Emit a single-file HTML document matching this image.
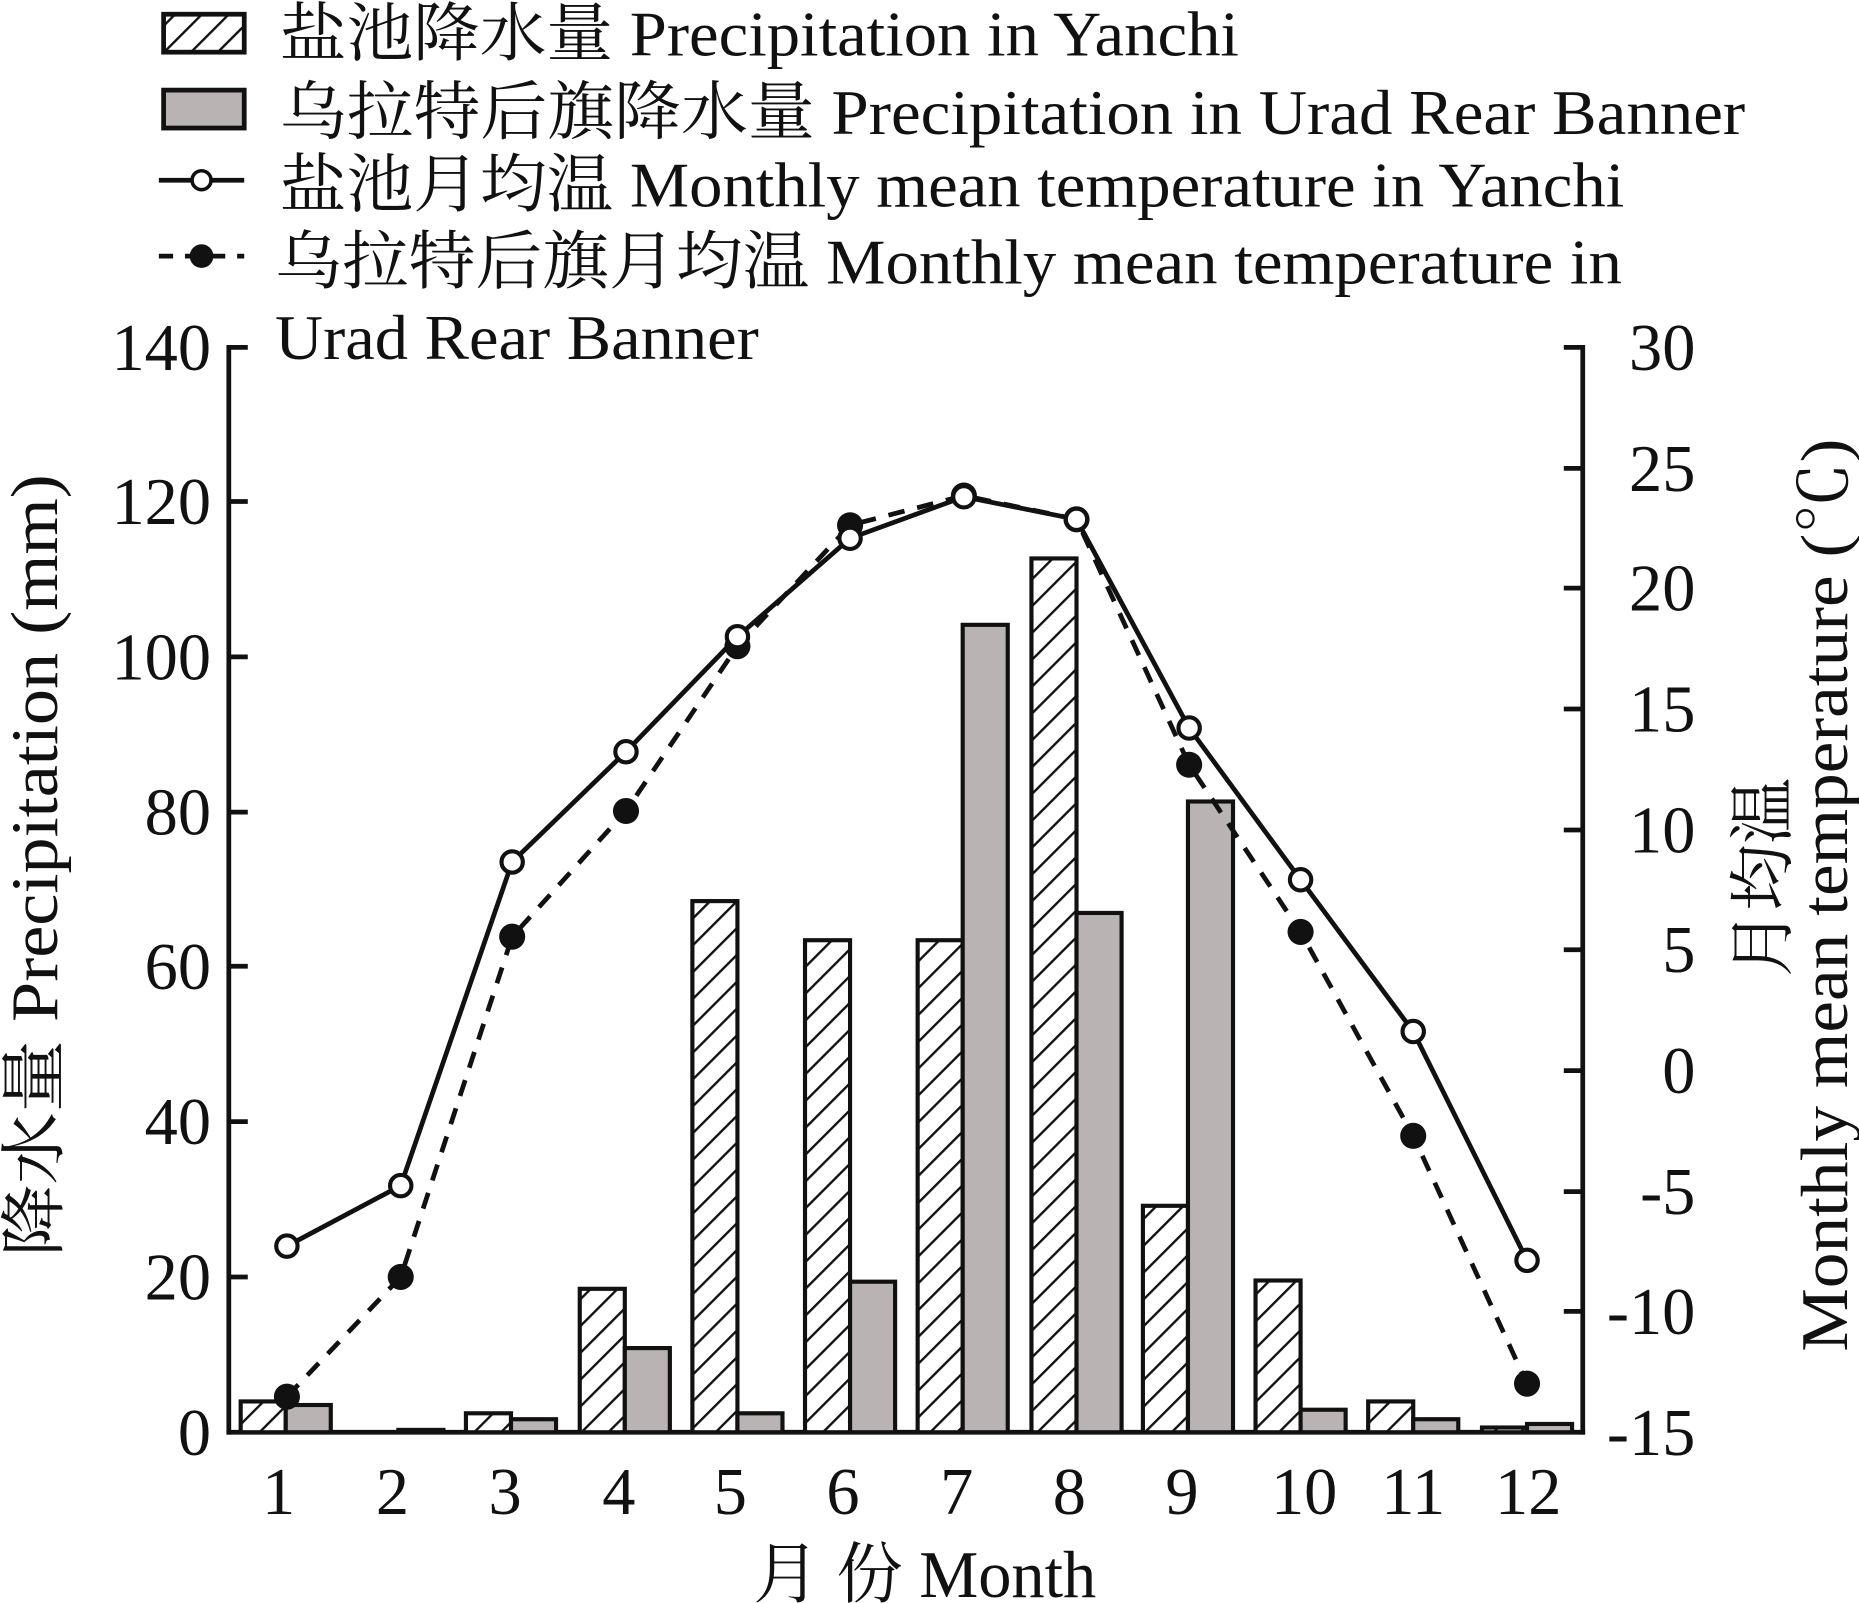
<!DOCTYPE html>
<html><head><meta charset="utf-8"><style>html,body{margin:0;padding:0;background:#fff}svg{display:block}</style></head>
<body>
<svg width="1859" height="1603" viewBox="0 0 1568 1352" preserveAspectRatio="none" xmlns="http://www.w3.org/2000/svg" font-family="'Liberation Serif','Noto Serif CJK SC',serif">
<defs>
<pattern id="h" patternUnits="userSpaceOnUse" width="16" height="16" patternTransform="rotate(45)">
<rect width="16" height="16" fill="#fff"/><line x1="0" y1="0" x2="0" y2="16" stroke="#111" stroke-width="4"/>
</pattern>
</defs>
<rect width="1568" height="1352" fill="#fff"/>
<!-- legend -->
<rect x="138" y="12" width="68" height="32" fill="url(#h)" stroke="#111" stroke-width="4"/>
<text x="236" y="47" font-size="54" fill="#111" textLength="809" lengthAdjust="spacingAndGlyphs">盐池降水量 Precipitation in Yanchi</text>
<rect x="138" y="76" width="68" height="32" fill="#bab3b3" stroke="#111" stroke-width="4"/>
<text x="236" y="113" font-size="54" fill="#111" textLength="1236" lengthAdjust="spacingAndGlyphs">乌拉特后旗降水量 Precipitation in Urad Rear Banner</text>
<line x1="134" y1="152" x2="206" y2="152" stroke="#111" stroke-width="4"/>
<circle cx="170" cy="152" r="8" fill="#fff" stroke="#111" stroke-width="3"/>
<text x="236" y="174" font-size="54" fill="#111" textLength="1134" lengthAdjust="spacingAndGlyphs">盐池月均温 Monthly mean temperature in Yanchi</text>
<line x1="134" y1="216" x2="206" y2="216" stroke="#111" stroke-width="4" stroke-dasharray="12,10"/>
<circle cx="170" cy="216" r="10" fill="#111"/>
<text x="232" y="239" font-size="54" fill="#111" textLength="1136" lengthAdjust="spacingAndGlyphs">乌拉特后旗月均温 Monthly mean temperature in</text>
<text x="232" y="303" font-size="54" fill="#111" textLength="408" lengthAdjust="spacingAndGlyphs">Urad Rear Banner</text>
<!-- axes -->
<g stroke="#111" stroke-width="4" fill="none">
<line x1="193" y1="291" x2="193" y2="1210"/>
<line x1="1335" y1="291" x2="1335" y2="1210"/>
<line x1="191" y1="1208" x2="1337" y2="1208"/>
<path d="M193 293h16M193 423h16M193 554h16M193 685h16M193 815h16M193 946h16M193 1077h16"/>
<path d="M1335 293h-16M1335 395h-16M1335 496h-16M1335 598h-16M1335 700h-16M1335 801h-16M1335 903h-16M1335 1005h-16M1335 1106h-16"/>
</g>
<g font-size="56" fill="#111" text-anchor="end">
<text x="178" y="312">140</text><text x="178" y="442">120</text><text x="178" y="573">100</text>
<text x="178" y="704">80</text><text x="178" y="834">60</text><text x="178" y="965">40</text>
<text x="178" y="1096">20</text><text x="178" y="1227">0</text>
</g>
<g font-size="56" fill="#111" text-anchor="end">
<text x="1430" y="312">30</text><text x="1430" y="414">25</text><text x="1430" y="515">20</text>
<text x="1430" y="617">15</text><text x="1430" y="719">10</text><text x="1430" y="820">5</text>
<text x="1430" y="922">0</text><text x="1430" y="1024">-5</text><text x="1430" y="1125">-10</text>
<text x="1430" y="1227">-15</text>
</g>
<g font-size="56" fill="#111" text-anchor="middle">
<text x="235" y="1277">1</text><text x="331" y="1277">2</text><text x="426" y="1277">3</text>
<text x="522" y="1277">4</text><text x="616" y="1277">5</text><text x="711" y="1277">6</text>
<text x="807" y="1277">7</text><text x="902" y="1277">8</text><text x="997" y="1277">9</text>
<text x="1100" y="1277">10</text><text x="1192" y="1277">11</text><text x="1289" y="1277">12</text>
</g>
<text x="780" y="1347" font-size="56" fill="#111" text-anchor="middle">月 份 Month</text>
<text transform="translate(48,730) rotate(-90)" font-size="56" fill="#111" text-anchor="middle" textLength="660" lengthAdjust="spacingAndGlyphs">降水量 Precipitation (mm)</text>
<text transform="translate(1506,740) rotate(-90)" font-size="56" fill="#111" text-anchor="middle">月均温</text>
<text transform="translate(1558,755) rotate(-90)" font-size="56" fill="#111" text-anchor="middle" textLength="770" lengthAdjust="spacingAndGlyphs">Monthly mean temperature (℃)</text>
<!-- bars -->
<g stroke="#111" stroke-width="3.5">
<g fill="url(#h)">
<rect x="203" y="1182" width="38" height="26"/>
<rect x="393" y="1192" width="38" height="16"/>
<rect x="489" y="1087" width="38" height="121"/>
<rect x="584" y="760" width="38" height="448"/>
<rect x="679" y="793" width="38" height="415"/>
<rect x="774" y="793" width="38" height="415"/>
<rect x="870" y="471" width="38" height="737"/>
<rect x="964" y="1017" width="38" height="191"/>
<rect x="1059" y="1080" width="38" height="128"/>
<rect x="1154" y="1182" width="38" height="26"/>
<rect x="1250" y="1204" width="38" height="4"/>
</g>
<g fill="#bab3b3">
<rect x="241" y="1185" width="38" height="23"/>
<rect x="336" y="1206" width="38" height="2"/>
<rect x="431" y="1197" width="38" height="11"/>
<rect x="527" y="1137" width="38" height="71"/>
<rect x="622" y="1192" width="38" height="16"/>
<rect x="717" y="1081" width="38" height="127"/>
<rect x="812" y="527" width="38" height="681"/>
<rect x="908" y="770" width="38" height="438"/>
<rect x="1002" y="676" width="38" height="532"/>
<rect x="1097" y="1189" width="38" height="19"/>
<rect x="1192" y="1197" width="38" height="11"/>
<rect x="1288" y="1201" width="38" height="7"/>
</g>
</g>
<!-- lines -->
<polyline fill="none" stroke="#111" stroke-width="4" stroke-dasharray="14,11" points="242,1178 338,1077 432,790 528,684 622,545 717,443 813,418 908,438 1003,645 1097,786 1192,958 1288,1167"/>
<g fill="#111">
<circle cx="242" cy="1178" r="11"/><circle cx="338" cy="1077" r="11"/><circle cx="432" cy="790" r="11"/>
<circle cx="528" cy="684" r="11"/><circle cx="622" cy="545" r="11"/><circle cx="717" cy="443" r="11"/>
<circle cx="813" cy="418" r="11"/><circle cx="908" cy="438" r="11"/><circle cx="1003" cy="645" r="11"/>
<circle cx="1097" cy="786" r="11"/><circle cx="1192" cy="958" r="11"/><circle cx="1288" cy="1167" r="11"/>
</g>
<polyline fill="none" stroke="#111" stroke-width="4" points="242,1051 338,1000 432,727 528,634 622,537 717,454 813,419 908,438 1003,614 1097,742 1192,870 1288,1063"/>
<g fill="#fff" stroke="#111" stroke-width="3.5">
<circle cx="242" cy="1051" r="9"/><circle cx="338" cy="1000" r="9"/><circle cx="432" cy="727" r="9"/>
<circle cx="528" cy="634" r="9"/><circle cx="622" cy="537" r="9"/><circle cx="717" cy="454" r="9"/>
<circle cx="813" cy="419" r="9"/><circle cx="908" cy="438" r="9"/><circle cx="1003" cy="614" r="9"/>
<circle cx="1097" cy="742" r="9"/><circle cx="1192" cy="870" r="9"/><circle cx="1288" cy="1063" r="9"/>
</g>
</svg>
</body></html>
